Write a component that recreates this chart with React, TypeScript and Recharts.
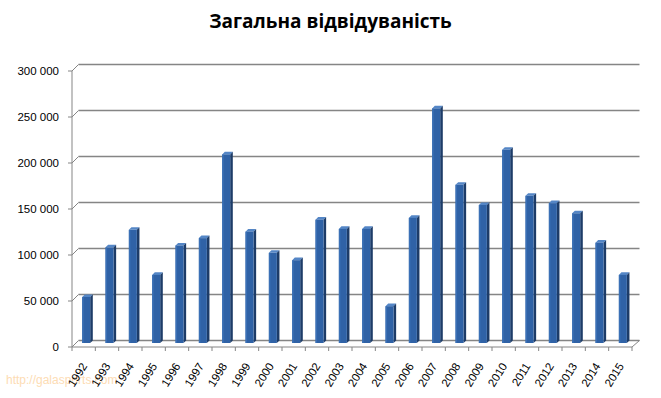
import React from "react";
import { BarChart, Bar, XAxis, YAxis, CartesianGrid } from "recharts";

const years = [
  "1992", "1993", "1994", "1995", "1996", "1997", "1998", "1999",
  "2000", "2001", "2002", "2003", "2004", "2005", "2006", "2007",
  "2008", "2009", "2010", "2011", "2012", "2013", "2014", "2015",
];
const visitors = [
  50000, 104000, 123000, 74000, 106000, 114000, 205000, 121000,
  98000, 90000, 134000, 124000, 124000, 40000, 136000, 255000,
  172000, 150000, 210000, 160000, 152000, 141000, 109000, 74000,
];
const yTicks = [0, 50000, 100000, 150000, 200000, 250000, 300000];

const data = years.map((year, i) => ({ year, visitors: visitors[i] }));

const W = 661;
const H = 398;
const TOP = 67;
const XAXIS_H = 55;
const LEFT = 72;
const RIGHT = 29;
const PLOT_H = H - TOP - XAXIS_H;
const PLOT_W = W - LEFT - RIGHT;
const BAND = PLOT_W / years.length;
const STEP = PLOT_H / (yTicks.length - 1);
// fake 3D offsets (front axis / back wall)
const DX = 6.5;
const FRONT_DY = 4;
const BACK_DY = 2.5;
const GRID = "#858585";
const FONT = "'Liberation Sans', Arial, sans-serif";

const fmt = (v: number) =>
  v === 0 ? "0" : `${Math.floor(v / 1000)} ${String(v % 1000).padStart(3, "0")}`;

const gridLine = (props: any) => {
  const y = props.y1;
  return (
    <g key={`grid-${props.index}`}>
      <line x1={LEFT} y1={y + FRONT_DY} x2={LEFT + DX} y2={y - BACK_DY} stroke={GRID} />
      <line x1={LEFT + DX} y1={y - BACK_DY} x2={LEFT + PLOT_W + DX + 1} y2={y - BACK_DY} stroke={GRID} strokeWidth={1.5} />
    </g>
  );
};

const YTick = ({ y, payload }: any) => {
  const fy = y + FRONT_DY;
  return (
    <g>
      <text x={59} y={fy} dy="0.35em" textAnchor="end" fontSize={11.5} fontFamily={FONT} fill="#000">
        {fmt(payload.value)}
      </text>
      <line x1={68} x2={LEFT} y1={fy} y2={fy} stroke={GRID} />
      {payload.value > 0 && <line x1={LEFT} x2={LEFT} y1={fy} y2={fy + STEP} stroke={GRID} />}
    </g>
  );
};

const XTick = ({ x, payload, index }: any) => {
  const xl = x - BAND / 2;
  const fy = TOP + PLOT_H + FRONT_DY;
  const last = index === years.length - 1;
  return (
    <g>
      <line x1={xl} y1={fy} x2={xl + BAND} y2={fy} stroke={GRID} />
      <line x1={xl} y1={fy} x2={xl} y2={fy + 4} stroke={GRID} />
      {last && (
        <>
          <line x1={xl + BAND} y1={fy} x2={xl + BAND} y2={fy + 4} stroke={GRID} />
          <line x1={xl + BAND} y1={fy} x2={xl + BAND + DX + 1} y2={fy - FRONT_DY - BACK_DY} stroke={GRID} />
        </>
      )}
      <text
        x={x + 4}
        y={366}
        textAnchor="end"
        fontSize={11.5}
        fontFamily={FONT}
        fill="#000"
        transform={`rotate(-58 ${x + 4} 366)`}
      >
        {payload.value}
      </text>
    </g>
  );
};

const Column3D = ({ x, y, width, height }: any) => {
  const bx = x + 2.2;
  const d = 2.6;
  return (
    <g>
      <polygon
        points={`${bx},${y} ${bx + d},${y - d} ${bx + width + d},${y - d} ${bx + width},${y}`}
        fill="#5486c6"
      />
      <polygon
        points={`${bx + width},${y} ${bx + width + d},${y - d} ${bx + width + d},${y + height - d} ${bx + width},${y + height}`}
        fill="#1d3c68"
      />
      <rect x={bx} y={y} width={width} height={height} fill="#2f62a6" />
      <rect x={bx} y={y} width={1.5} height={height} fill="#3a70b6" />
    </g>
  );
};

export default function App() {
  return (
    <div style={{ position: "absolute", left: 0, top: 0, width: W, height: H, background: "#fff" }}>
      <div
        style={{
          position: "absolute",
          left: 0,
          top: 373,
          paddingLeft: 6,
          fontFamily: FONT,
          fontSize: 12,
          lineHeight: "14px",
          color: "#fddcb4",
        }}
      >
        http://galasports.com
      </div>
      <div
        style={{
          position: "absolute",
          left: 0,
          top: 8,
          width: W,
          textAlign: "center",
          fontFamily: "'Open Sans', sans-serif",
          fontWeight: 700,
          fontSize: 19,
          lineHeight: "26px",
          color: "#000",
        }}
      >
        Загальна відвідуваність
      </div>
      <div style={{ position: "absolute", left: 0, top: 0 }}>
        <BarChart
          width={W}
          height={H}
          data={data}
          margin={{ top: TOP, right: RIGHT, bottom: 0, left: 0 }}
          barSize={8}
        >
          <CartesianGrid horizontal={gridLine} vertical={false} />
          <XAxis
            dataKey="year"
            interval={0}
            height={XAXIS_H}
            axisLine={false}
            tickLine={false}
            tick={<XTick />}
          />
          <YAxis
            domain={[0, 300000]}
            ticks={yTicks}
            interval={0}
            width={LEFT}
            axisLine={false}
            tickLine={false}
            tick={<YTick />}
          />
          <Bar dataKey="visitors" shape={<Column3D />} isAnimationActive={false} />
        </BarChart>
      </div>
    </div>
  );
}
